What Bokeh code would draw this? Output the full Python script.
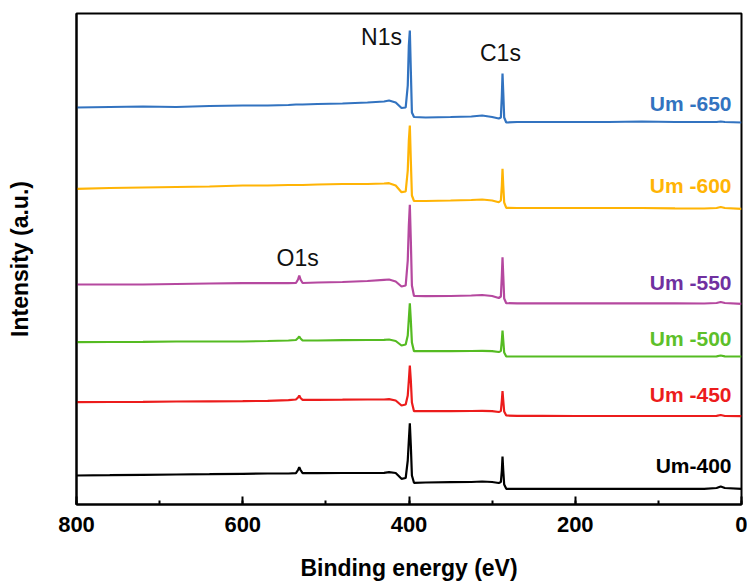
from bokeh.plotting import figure
from bokeh.models import Range1d, Label, SingleIntervalTicker, FixedTicker
from bokeh.embed import file_html
from bokeh.resources import INLINE

# Binding energy grid (eV), shared by all spectra
energy = [800, 760, 720, 680, 640, 600, 570, 545, 536, 533.5,
          532, 530.5, 528, 510, 480, 450, 430, 424, 416, 409,
          404, 401.5, 400.2, 399, 397.8, 396.5, 394, 380, 350, 325,
          312, 300, 292, 289.5, 288.3, 287.5, 286.6, 285.5, 283, 270,
          240, 200, 160, 120, 80, 45, 30, 25, 20, 0]

# Intensities (a.u., already vertically offset as in the figure)
um650 = [397, 397.5, 398, 397.5, 398.5, 399, 399, 399.5, 400, 400,
         400, 400, 400, 400.5, 401, 402, 403, 404, 402, 396.5,
         397, 419, 459, 474, 434, 392, 387.5, 387, 387.5, 388,
         389, 387.5, 386, 387, 409, 431, 412, 387, 382, 382.5,
         382.5, 382.5, 382.5, 383, 382.5, 382.5, 382.5, 383, 382.5, 382]
um600 = [315.7, 316.5, 317, 317.5, 318, 319, 319, 319.5, 319.5, 319.5,
         319.5, 319.5, 319.5, 320, 320.5, 320.5, 321, 321.3, 319, 312.3,
         313, 334, 364, 379, 344, 309, 303.5, 303.5, 304, 304.5,
         305, 304, 302.3, 304, 319, 335.7, 319, 302, 296.7, 296.5,
         296.5, 296.5, 296.5, 296.5, 296.2, 296, 296.5, 297.5, 296.5, 295.7]
um550 = [220, 220, 220, 220.5, 221, 221.3, 221.5, 221.3, 221.5, 225,
         229, 225, 221.5, 222, 222.5, 223.5, 224.7, 225, 223, 218,
         219, 244, 279, 299.7, 264, 219, 208.5, 208.3, 208.5, 209,
         209.5, 208.5, 206.5, 208, 229, 247.3, 229, 206, 201.3, 201.2,
         201.2, 201.2, 201.2, 201.2, 201.2, 201, 201.5, 202.5, 201.5, 200.7]
um500 = [162.3, 162.5, 162.7, 163, 163, 163, 163.5, 164, 164.5, 166.5,
         168, 166, 164, 164, 164.3, 164.5, 164.7, 165, 163.5, 159,
         160, 169, 186, 201.3, 184, 162, 153.3, 153.3, 153.3, 153.5,
         153.7, 153.3, 152.5, 153.5, 164, 174, 164, 152, 148, 148,
         148, 148, 148, 148, 148, 148, 148.2, 149, 148.2, 148]
um450 = [102.3, 102.5, 102.7, 103, 103.2, 103.3, 103.7, 104.3, 105, 107,
         109, 106.5, 104.7, 104.7, 104.8, 105, 105, 105.3, 104, 99,
         100, 109, 124, 139, 124, 102, 93.3, 93.3, 93.3, 93.5,
         93.7, 93.3, 92.5, 93.5, 104, 113.3, 104, 93, 89, 88.7,
         88.7, 88.5, 88.5, 88.5, 88.5, 88.5, 88.7, 89.5, 88.5, 88.3]
um400 = [29, 29.3, 29.7, 30, 30.3, 30.7, 31, 31, 31.3, 34.5,
         37.3, 34.5, 31.3, 31.3, 31.5, 31.5, 31.7, 32.3, 31.5, 25.7,
         26.5, 44, 64, 81.3, 59, 29, 21.7, 22, 22.3, 22.5,
         23, 22.5, 21.5, 22.5, 34, 48, 34, 20, 15.7, 15.7,
         15.7, 15.7, 15.7, 15.7, 15.7, 15.7, 16.5, 18, 16.5, 15.7]

series_names = ["Um -650", "Um -600", "Um -550", "Um -500", "Um -450", "Um-400"]
series_values = [um650, um600, um550, um500, um450, um400]
line_colors = ["#3273C0", "#FFB405", "#B5489F", "#55BB22", "#EC1C1C", "#000000"]
label_colors = ["#3273C0", "#FFB405", "#7030A0", "#5DC02A", "#EC1C1C", "#000000"]
label_y = [401.5, 319, 222, 166, 110, 39]

peak_names = ["N1s", "C1s", "O1s"]
peak_x = [433, 290, 534]
peak_y = [468, 452, 247]

FONT = "Liberation Sans"

p = figure(width=747, height=583, output_backend="svg", toolbar_location=None,
           x_range=Range1d(800, 0), y_range=Range1d(0, 491),
           min_border_left=76, min_border_top=13, min_border_right=6,
           min_border_bottom=79)

for vals, col in zip(series_values, line_colors):
    p.line(energy, vals, line_color=col, line_width=2.2)

for name, col, yy in zip(series_names, label_colors, label_y):
    p.add_layout(Label(x=12, y=yy, text=name, text_align="right",
                       text_baseline="middle", text_color=col,
                       text_font=FONT, text_font_style="bold",
                       text_font_size="21px"))

for name, xx, yy in zip(peak_names, peak_x, peak_y):
    p.add_layout(Label(x=xx, y=yy, text=name, text_align="center",
                       text_baseline="middle", text_color="#111111",
                       text_font=FONT, text_font_size="23px"))

p.grid.visible = False
p.outline_line_color = "black"
p.outline_line_width = 2
p.outline_line_alpha = 1.0

xa = p.xaxis[0]
xa.ticker = SingleIntervalTicker(interval=200, num_minor_ticks=2)
xa.axis_label = "Binding energy (eV)"
xa.axis_label_text_font = FONT
xa.axis_label_text_font_style = "bold"
xa.axis_label_text_font_size = "23px"
xa.axis_label_text_color = "black"
xa.axis_label_standoff = 20
xa.major_label_text_font = FONT
xa.major_label_text_font_style = "bold"
xa.major_label_text_font_size = "22px"
xa.major_label_text_color = "black"
xa.major_label_standoff = 12
xa.major_tick_in = 8
xa.major_tick_out = 0
xa.minor_tick_in = 4
xa.minor_tick_out = 0
xa.axis_line_width = 2
xa.major_tick_line_width = 2
xa.minor_tick_line_width = 2
xa.axis_line_color = "black"

ya = p.yaxis[0]
ya.ticker = FixedTicker(ticks=[])
ya.axis_label = "Intensity (a.u.)"
ya.axis_label_text_font = FONT
ya.axis_label_text_font_style = "bold"
ya.axis_label_text_font_size = "23px"
ya.axis_label_text_color = "black"
ya.axis_label_standoff = 44
ya.major_tick_line_color = None
ya.minor_tick_line_color = None
ya.axis_line_width = 2
ya.axis_line_color = "black"

open("out.html", "w").write(file_html(p, INLINE))
